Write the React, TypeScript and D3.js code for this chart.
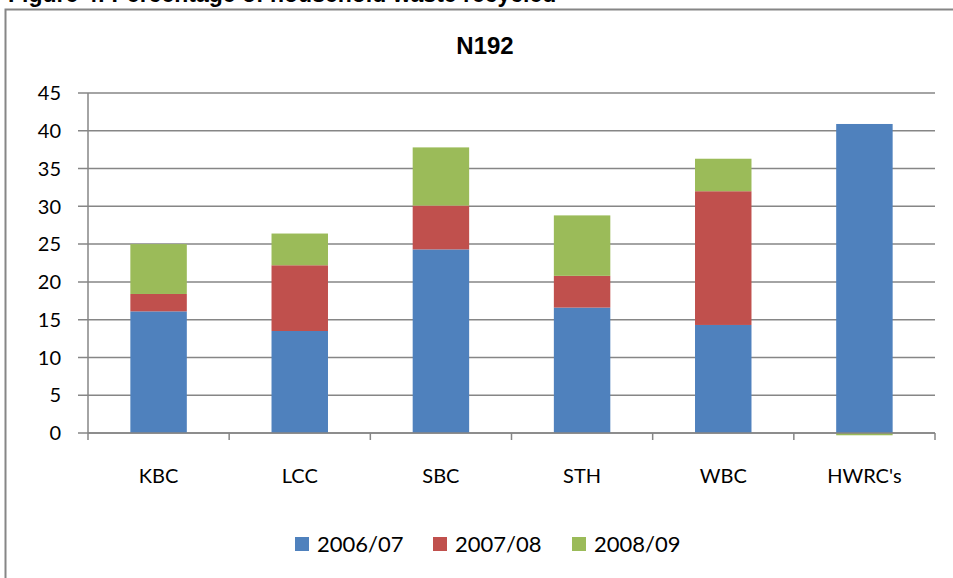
import React from 'react';
import * as d3 from 'd3';

const categories = ['KBC', 'LCC', 'SBC', 'STH', 'WBC', "HWRC's"];
const seriesNames = ['2006/07', '2007/08', '2008/09'];
const values0607 = [16.1, 13.5, 24.3, 16.6, 14.3, 40.9];
const values0708 = [2.3, 8.7, 5.8, 4.2, 17.7, 0];
const values0809 = [6.6, 4.2, 7.7, 8.0, 4.3, -0.3];
const yTicks = [0, 5, 10, 15, 20, 25, 30, 35, 40, 45];
const colors = ['#4F81BD', '#C0504D', '#9BBB59'];

const App = () => {
  const width = 953;
  const height = 578;
  const plot = { left: 88, right: 935, top: 93, bottom: 433 };
  const grey = '#868686';
  const font = 'Lato, "Open Sans", sans-serif';

  const rows = categories.map((c, i) => ({
    cat: c,
    '2006/07': values0607[i],
    '2007/08': values0708[i],
    '2008/09': values0809[i]
  }));

  const stacked = d3
    .stack<any>()
    .keys(seriesNames)
    .offset(d3.stackOffsetDiverging)(rows);

  const xScale = d3
    .scaleBand()
    .domain(categories)
    .range([plot.left, plot.right])
    .padding(0);

  const yScale = d3
    .scaleLinear()
    .domain([0, 45])
    .range([plot.bottom, plot.top]);

  const barWidth = xScale.bandwidth() * 0.4;
  const boundaries = categories.map(c => xScale(c) as number).concat([plot.right]);

  // legend positions
  const legendX = [295, 433, 572];

  return (
    <svg
      width={width}
      height={height}
      style={{ position: 'absolute', left: 0, top: 0, background: '#fff' }}
    >
      <rect x={0} y={0} width={width} height={height} fill="#fff" />
      {/* caption, cut by the top edge as in the source page */}
      <text
        x={8}
        y={2}
        fontFamily="Arial, 'Liberation Sans', sans-serif"
        fontWeight="bold"
        fontSize={23}
        fill="#000"
      >
        Figure 4: Percentage of household waste recycled
      </text>
      <rect x={5.5} y={9.5} width={1000} height={700} fill="#fff" stroke={grey} strokeWidth={2} />

      <text
        x={485}
        y={54}
        textAnchor="middle"
        fontFamily="Arial, 'Liberation Sans', sans-serif"
        fontWeight="bold"
        fontSize={24}
        fill="#000"
      >
        N192
      </text>

      {/* gridlines and y axis */}
      {yTicks.map(t => (
        <g key={t}>
          <line
            x1={plot.left - 10}
            x2={plot.right}
            y1={yScale(t)}
            y2={yScale(t)}
            stroke={grey}
            strokeWidth={1.5}
          />
          <text
            x={61}
            y={yScale(t)}
            dy="0.36em"
            textAnchor="end"
            fontFamily={font}
            fontSize={20}
            fill="#000"
          >
            {t}
          </text>
        </g>
      ))}
      <line x1={plot.left} x2={plot.left} y1={plot.top} y2={plot.bottom} stroke={grey} strokeWidth={1.5} />

      {/* bars */}
      {stacked.map((s, si) =>
        s.map((d, i) => {
          const x = (xScale(categories[i]) as number) + xScale.bandwidth() / 2 - barWidth / 2;
          const y0 = yScale(d[0]);
          const y1 = yScale(d[1]);
          return (
            <rect
              key={si + '-' + i}
              x={x}
              y={Math.min(y0, y1)}
              width={barWidth}
              height={Math.abs(y0 - y1)}
              fill={colors[si]}
            />
          );
        })
      )}

      {/* x axis */}
      <line x1={plot.left} x2={plot.right} y1={plot.bottom} y2={plot.bottom} stroke={grey} strokeWidth={1.5} />
      {boundaries.map((b, i) => (
        <line key={i} x1={b} x2={b} y1={plot.bottom} y2={plot.bottom + 7} stroke={grey} strokeWidth={1.5} />
      ))}
      {categories.map(c => (
        <text
          key={c}
          x={(xScale(c) as number) + xScale.bandwidth() / 2}
          y={483}
          textAnchor="middle"
          fontFamily={font}
          fontSize={20}
          fill="#000"
        >
          {c}
        </text>
      ))}

      {/* legend */}
      {seriesNames.map((n, i) => (
        <g key={n}>
          <rect x={legendX[i]} y={537} width={14} height={14} fill={colors[i]} />
          <text
            x={legendX[i] + 22}
            y={552}
            fontFamily={font}
            fontSize={22}
            fill="#000"
          >
            {n}
          </text>
        </g>
      ))}
    </svg>
  );
};

export default App;
